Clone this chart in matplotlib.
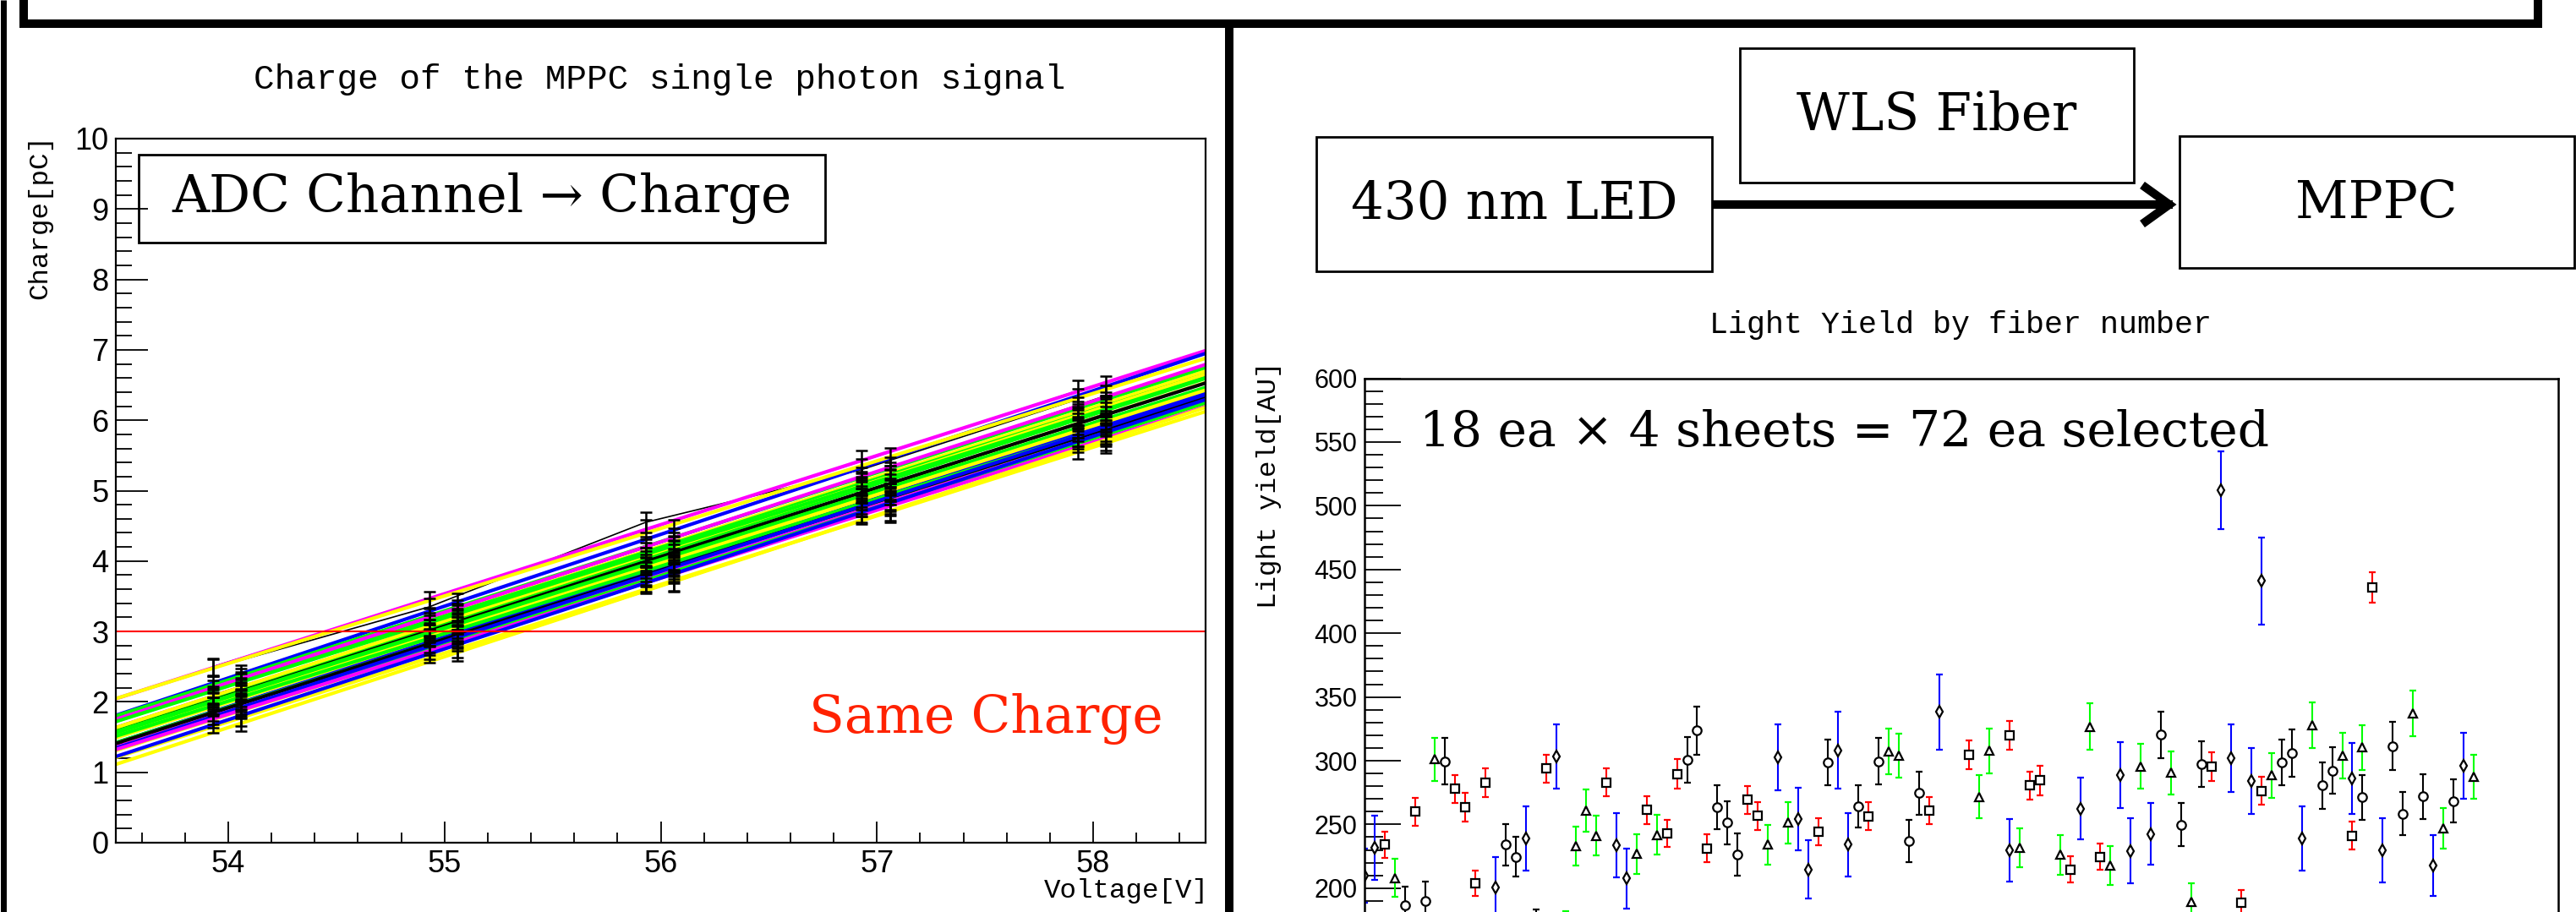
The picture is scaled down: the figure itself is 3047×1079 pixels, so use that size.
import numpy as np
import matplotlib
matplotlib.use('Agg')
import matplotlib.pyplot as plt
from matplotlib.lines import Line2D
from matplotlib.patches import Rectangle
from matplotlib.ticker import MultipleLocator, FixedLocator

W, H = 3047, 1079

# ---- left panel: charge of the single photon signal vs bias voltage
volt_a = [53.93, 54.93, 55.93, 56.93, 57.93]
volt_b = [54.06, 55.06, 56.06, 57.06, 58.06]
charge_err = [0.12, 0.12, 0.14, 0.15, 0.15]

channel_group = list('ABABABABABABABBABABABABABAABBB')
channel_color = ['m', 'b', 'y', 'y', 'g', 'b', 'g', 'y', 'm', 'g',
                 'k', 'y', 'g', 'b', 'g', 'y', 'm', 'g', 'y', 'k',
                 'g', 'b', 'y', 'm', 'y', 'b', 'g', 'y', 'm', 'g']
q54 = [2.50, 2.40, 2.48, 2.30, 2.25, 2.20, 2.18, 2.15, 2.10, 2.12,
       2.05, 2.05, 2.02, 2.00, 1.98, 1.95, 1.92, 1.95, 1.88, 1.85,
       1.90, 1.80, 1.78, 1.75, 1.70, 1.68, 2.08, 2.22, 2.35, 2.28]
q55 = [3.45, 3.42, 3.35, 3.28, 3.22, 3.15, 3.15, 3.12, 3.05, 3.08,
       3.00, 3.02, 2.98, 2.98, 2.95, 2.92, 2.90, 2.90, 2.85, 2.82,
       2.88, 2.78, 2.75, 2.72, 2.70, 2.68, 3.05, 3.20, 3.32, 3.25]
q56 = [4.45, 4.44, 4.55, 4.27, 4.20, 4.15, 4.12, 4.10, 4.05, 4.02,
       4.00, 3.98, 3.95, 3.95, 3.92, 3.90, 3.88, 3.85, 3.82, 3.80,
       3.85, 3.78, 3.72, 3.70, 3.70, 3.68, 4.05, 4.20, 4.32, 4.22]
q57 = [5.42, 5.46, 5.30, 5.25, 5.18, 5.15, 5.10, 5.08, 5.05, 5.00,
       4.98, 4.95, 4.92, 4.95, 4.88, 4.88, 4.85, 4.82, 4.80, 4.78,
       4.82, 4.78, 4.70, 4.68, 4.72, 4.70, 5.02, 5.20, 5.32, 5.20]
q58 = [6.42, 6.48, 6.30, 6.25, 6.18, 6.20, 6.08, 6.10, 6.05, 5.98,
       5.95, 5.92, 5.90, 5.95, 5.85, 5.85, 5.82, 5.78, 5.78, 5.75,
       5.80, 5.78, 5.68, 5.60, 5.72, 5.70, 6.02, 6.20, 6.35, 6.15]
same_charge = 3.0

# ---- right panel: light yield by fiber number (one array set per sheet)
sq_fiber = [2, 5, 9, 10, 11, 12, 18, 24, 28, 30, 31, 34, 38, 39, 45, 50, 56, 60,
            64, 66, 67, 70, 73, 84, 87, 89, 98, 100]
sq_ly = [234.2, 260.1, 277.8, 263.5, 204.1, 282.7, 293.8, 282.9, 261.3, 243.0,
         289.4, 231.3, 269.4, 256.8, 244.2, 256.4, 260.8, 304.4, 319.9, 280.5,
         284.5, 214.7, 224.7, 295.6, 188.6, 276.3, 241.3, 436.0]
sq_err = [10.3, 11, 11, 11, 10, 11.4, 11, 11, 11, 10.7, 11.6, 10.8, 10.9, 11,
          10.7, 11, 10.5, 11.3, 11.5, 11.2, 11.5, 10.4, 10.4, 11.3, 10, 11, 10.8, 12]

ci_fiber = [4, 6, 8, 14, 15, 17, 32, 33, 35, 36, 37, 46, 49, 51, 54, 55, 79, 81,
            83, 91, 92, 95, 96, 99, 102, 103, 105, 108]
ci_ly = [186.4, 189.9, 299.6, 234.2, 224.7, 170.0, 300.7, 323.7, 263.5, 251.3,
         226.4, 298.5, 264.1, 299.6, 236.9, 274.6, 320.4, 249.7, 297.3, 298.5,
         306.0, 280.5, 292.2, 271.2, 311.5, 258.5, 271.9, 268.3]
ci_err = [15, 15, 18, 16.3, 15.7, 13, 18, 19, 17.5, 16.8, 16.3, 17.8, 16.6, 18,
          16.6, 17, 18.3, 16.9, 18, 18, 18.3, 18, 18.3, 17.5, 19, 17, 17.7, 17]

tr_fiber = [3, 7, 20, 21, 22, 23, 27, 29, 40, 42, 52, 53, 61, 62, 65, 69, 72, 74,
            77, 80, 82, 90, 94, 97, 99, 104, 107, 110]
tr_ly = [208.1, 301.1, 167.0, 232.9, 260.6, 241.3, 226.9, 241.9, 234.2, 251.3,
         307.3, 304.0, 271.6, 307.8, 231.8, 226.2, 326.6, 217.6, 295.6, 290.5,
         189.2, 288.4, 327.7, 303.8, 310.4, 337.2, 246.8, 287.4]
tr_err = [15, 17, 15, 15.2, 16.6, 15.5, 15.5, 15.5, 15.5, 16, 17.7, 17.5, 17,
          17.7, 15.4, 15.5, 18.3, 15.3, 17.7, 17, 14.5, 17.7, 17.9, 18, 17.4, 18, 16, 17.2]

di_fiber = [0, 1, 13, 16, 19, 25, 26, 41, 43, 44, 47, 48, 57, 64, 71, 75, 76, 78,
            85, 86, 88, 89, 93, 98, 101, 106, 109]
di_ly = [209.8, 231.8, 200.3, 239.0, 303.3, 233.6, 207.5, 302.7, 254.1, 214.7,
         308.2, 234.2, 338.3, 229.6, 262.4, 288.9, 229.1, 242.4, 512.0, 301.8,
         284.0, 441.0, 239.0, 286.0, 229.6, 218.0, 296.0]
di_err = [21.5, 25, 24, 25.3, 25, 25, 23.6, 25.9, 24.5, 23, 30, 25, 29.4, 24.7,
          24.4, 26, 25.5, 24.2, 30.5, 26.5, 26, 34, 25.5, 27.8, 25, 23.8, 25.6]

ly_ticks = [200, 250, 300, 350, 400, 450, 500, 550, 600]

colors = {'m': '#ff00ff', 'b': '#0000ff', 'k': '#000000', 'y': '#ffff00', 'g': '#00ff00'}

plt.rcParams['font.family'] = ['Liberation Sans', 'DejaVu Sans']
fig = plt.figure(figsize=(W / 100, H / 100), dpi=100)


def fx(x):
    return x / W


def fy(y):
    return 1 - y / H


def frame_line(xs, ys, lw):
    fig.add_artist(Line2D([fx(v) for v in xs], [fy(v) for v in ys], transform=fig.transFigure,
                          color='k', lw=lw, solid_joinstyle='miter', solid_capstyle='butt'))


def box(x0, y0, x1, y1):
    fig.add_artist(Rectangle((fx(x0), fy(y1)), fx(x1) - fx(x0), fy(y0) - fy(y1),
                             transform=fig.transFigure, fill=False, ec='k', lw=2.0))


big_font = 'DejaVu Serif'
mono_font = 'Liberation Mono'

# ---------------- left plot
ax1 = fig.add_axes([fx(137), fy(997), (1426 - 137) / W, (997 - 164) / H])
ax1.set_xlim(53.48, 58.52)
ax1.set_ylim(0, 10)
xs = np.array(ax1.get_xlim())
for i in range(len(q54)):
    v = volt_a if channel_group[i] == 'A' else volt_b
    q = [q54[i], q55[i], q56[i], q57[i], q58[i]]
    # graph line underneath, then the fit on top, error bars over everything
    ax1.plot(v, q, color='k', lw=1.2, zorder=2)
    coef = np.polyfit(v, q, 1)
    ax1.plot(xs, np.polyval(coef, xs), color=colors[channel_color[i]], lw=3.0, zorder=3)
    ax1.errorbar(v, q, yerr=charge_err, fmt='none', ecolor='k', elinewidth=1.8,
                 capsize=5, capthick=1.8, zorder=4)
ax1.axhline(same_charge, color='#ff0000', lw=1.5, zorder=5)

ax1.xaxis.set_major_locator(MultipleLocator(1))
ax1.xaxis.set_minor_locator(MultipleLocator(0.2))
ax1.yaxis.set_major_locator(MultipleLocator(1))
ax1.yaxis.set_minor_locator(MultipleLocator(0.2))
ax1.tick_params(which='both', direction='in', top=False, right=False, width=1.3, labelsize=26)
ax1.tick_params(axis='y', which='major', length=27, pad=6)
ax1.tick_params(axis='y', which='minor', length=14)
ax1.tick_params(axis='x', which='major', length=18, pad=6)
ax1.tick_params(axis='x', which='minor', length=9)
for s in ax1.spines.values():
    s.set_linewidth(1.6)
    s.set_zorder(6)

fig.text(fx(780), fy(94), 'Charge of the MPPC single photon signal', family=mono_font,
         fontsize=29.5, ha='center', va='center')
fig.text(fx(47), fy(159), 'Charge[pC]', family=mono_font, fontsize=23.4,
         rotation=90, ha='center', va='top')
fig.text(fx(1430), fy(1054), 'Voltage[V]', family=mono_font, fontsize=23.4,
         ha='right', va='center')

box(164, 183, 976, 287)
fig.text(fx(570), fy(235), 'ADC Channel \u2192 Charge', family=big_font, fontsize=44,
         ha='center', va='center')
fig.text(fx(957), fy(867), 'Same Charge', family=big_font, fontsize=44,
         color='#ff2200', ha='left', va='baseline')

# ---------------- diagram
box(1557, 162, 2025, 321)
box(2058, 57, 2524, 216)
box(2578, 161, 3045, 317)
fig.text(fx(1791), fy(241), '430 nm LED', family=big_font, fontsize=44, ha='center', va='center')
fig.text(fx(2291), fy(137), 'WLS Fiber', family=big_font, fontsize=44, ha='center', va='center')
fig.text(fx(2811), fy(241), 'MPPC', family=big_font, fontsize=44, ha='center', va='center')
frame_line([2025, 2570], [242, 242], 7.2)
frame_line([2534, 2566, 2534], [219, 242, 265], 7.2)

# ---------------- right plot
ax2 = fig.add_axes([fx(1614), fy(1201.6), (3025.7 - 1614) / W, (1201.6 - 447.6) / H])
ax2.set_xlim(0, 118.4)
ax2.set_ylim(100, 600)
sheets = [
    (sq_fiber, sq_ly, sq_err, 's', '#ff0000'),
    (ci_fiber, ci_ly, ci_err, 'o', '#000000'),
    (tr_fiber, tr_ly, tr_err, '^', '#00ff00'),
    (di_fiber, di_ly, di_err, 'd', '#0000ff'),
]
for fib, ly, err, mk, ec in sheets:
    ax2.errorbar(fib, ly, yerr=err, fmt=mk, ms=7.5, mfc='white', mec='k', mew=1.6,
                 ecolor=ec, elinewidth=1.5, capsize=2.6, capthick=1.5)

ax2.yaxis.set_major_locator(FixedLocator(ly_ticks))
ax2.yaxis.set_minor_locator(MultipleLocator(10))
ax2.set_xticks([])
ax2.tick_params(axis='y', which='both', direction='in', right=False, width=1.3, labelsize=22)
ax2.tick_params(axis='y', which='major', length=31, pad=6)
ax2.tick_params(axis='y', which='minor', length=16)
for s in ax2.spines.values():
    s.set_linewidth(1.8)

fig.text(fx(2319), fy(385), 'Light Yield by fiber number', family=mono_font,
         fontsize=26.4, ha='center', va='center')
fig.text(fx(1501), fy(428), 'Light yield[AU]', family=mono_font, fontsize=23.4,
         rotation=90, ha='center', va='top')
fig.text(fx(1679), fy(528), '18 ea \u00d7 4 sheets = 72 ea selected', family=big_font,
         fontsize=42, ha='left', va='baseline')

# ---------------- slide frame
frame_line([3.5, 3.5], [0, H], 5.0)
frame_line([28, 28, 3002, 3002], [0, 28, 28, 0], 7.2)
frame_line([1454, 1454], [28, H], 7.2)

fig.savefig('out.png', dpi=100)
